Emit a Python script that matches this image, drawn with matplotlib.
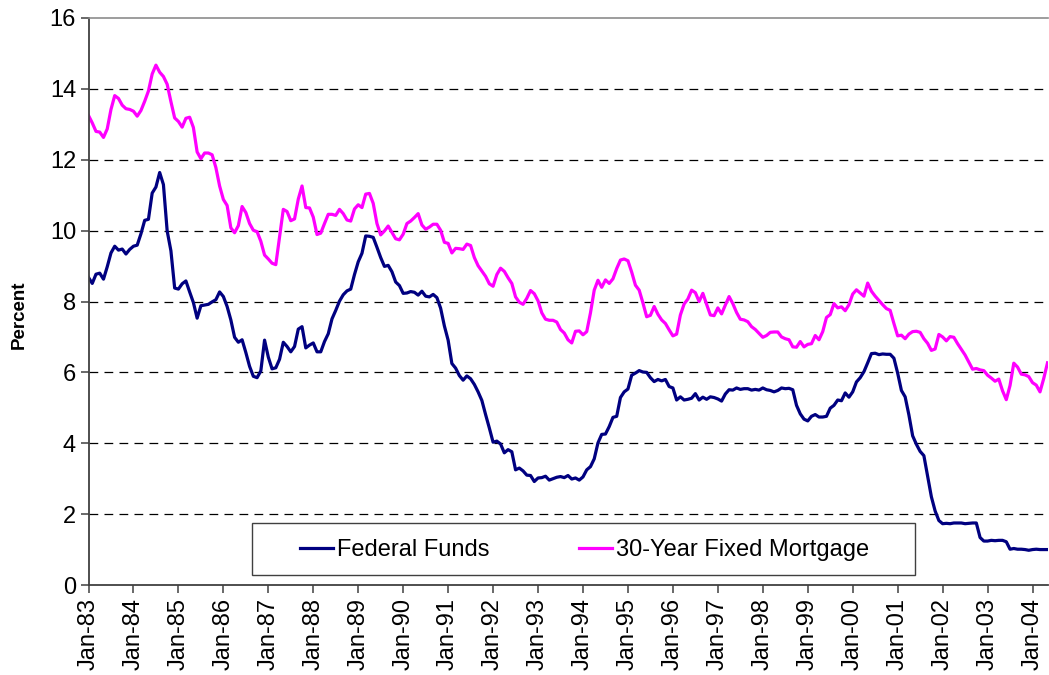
import matplotlib
matplotlib.use('Agg')
import matplotlib.pyplot as plt
from matplotlib.patches import Rectangle
import numpy as np

plt.rcParams['font.family'] = ['Liberation Sans', 'DejaVu Sans']

# monthly series, Jan-83 .. May-04
fed_funds = [
    8.68, 8.51, 8.77, 8.80, 8.63, 8.98, 9.37, 9.56, 9.45, 9.48, 9.34, 9.47,
    9.56, 9.59, 9.91, 10.29, 10.32, 11.06, 11.23, 11.64, 11.30, 9.99, 9.43, 8.38,
    8.35, 8.50, 8.58, 8.27, 7.97, 7.53, 7.88, 7.90, 7.92, 7.99, 8.05, 8.27,
    8.14, 7.86, 7.48, 6.99, 6.85, 6.92, 6.56, 6.17, 5.89, 5.85, 6.04, 6.91,
    6.43, 6.10, 6.13, 6.37, 6.85, 6.73, 6.58, 6.73, 7.22, 7.29, 6.69, 6.77,
    6.83, 6.58, 6.58, 6.87, 7.09, 7.51, 7.75, 8.01, 8.19, 8.30, 8.35, 8.76,
    9.12, 9.36, 9.85, 9.84, 9.81, 9.53, 9.24, 8.99, 9.02, 8.84, 8.55, 8.45,
    8.23, 8.24, 8.28, 8.26, 8.18, 8.29, 8.15, 8.13, 8.20, 8.11, 7.81, 7.31,
    6.91, 6.25, 6.12, 5.91, 5.78, 5.90, 5.82, 5.66, 5.45, 5.21, 4.81, 4.43,
    4.03, 4.06, 3.98, 3.73, 3.82, 3.76, 3.25, 3.30, 3.22, 3.10, 3.09, 2.92,
    3.02, 3.03, 3.07, 2.96, 3.00, 3.04, 3.06, 3.03, 3.09, 2.99, 3.02, 2.96,
    3.05, 3.25, 3.34, 3.56, 4.01, 4.25, 4.26, 4.47, 4.73, 4.76, 5.29, 5.45,
    5.53, 5.92, 5.98, 6.05, 6.01, 6.00, 5.85, 5.74, 5.80, 5.76, 5.80, 5.60,
    5.56, 5.22, 5.31, 5.22, 5.24, 5.27, 5.40, 5.22, 5.30, 5.24, 5.31, 5.29,
    5.25, 5.19, 5.39, 5.51, 5.50, 5.56, 5.52, 5.54, 5.54, 5.50, 5.52, 5.50,
    5.56, 5.51, 5.49, 5.45, 5.49, 5.56, 5.54, 5.55, 5.51, 5.07, 4.83, 4.68,
    4.63, 4.76, 4.81, 4.74, 4.74, 4.76, 4.99, 5.07, 5.22, 5.20, 5.42, 5.30,
    5.45, 5.73, 5.85, 6.02, 6.27, 6.53, 6.54, 6.50, 6.52, 6.51, 6.51, 6.40,
    5.98, 5.49, 5.31, 4.80, 4.21, 3.97, 3.77, 3.65, 3.07, 2.49, 2.09, 1.82,
    1.73, 1.74, 1.73, 1.75, 1.75, 1.75, 1.73, 1.74, 1.75, 1.75, 1.34, 1.24,
    1.24, 1.26, 1.25, 1.26, 1.26, 1.22, 1.01, 1.03, 1.01, 1.01, 1.00, 0.98,
    1.00, 1.01, 1.00, 1.00, 1.00,
]

mortgage_30y = [
    13.25, 13.04, 12.80, 12.78, 12.63, 12.87, 13.42, 13.81, 13.73, 13.54, 13.44, 13.42,
    13.37, 13.23, 13.39, 13.65, 13.94, 14.42, 14.67, 14.47, 14.35, 14.13, 13.64, 13.18,
    13.08, 12.92, 13.17, 13.20, 12.91, 12.22, 12.03, 12.19, 12.19, 12.14, 11.78, 11.26,
    10.88, 10.71, 10.08, 9.94, 10.14, 10.68, 10.51, 10.20, 10.01, 9.97, 9.70, 9.31,
    9.20, 9.08, 9.04, 9.83, 10.60, 10.54, 10.28, 10.33, 10.89, 11.26, 10.65, 10.64,
    10.38, 9.89, 9.93, 10.20, 10.46, 10.46, 10.43, 10.60, 10.48, 10.30, 10.27, 10.61,
    10.73, 10.65, 11.03, 11.05, 10.77, 10.20, 9.88, 9.99, 10.13, 9.95, 9.77, 9.74,
    9.90, 10.20, 10.27, 10.37, 10.48, 10.16, 10.04, 10.10, 10.18, 10.18, 10.01, 9.67,
    9.64, 9.37, 9.50, 9.49, 9.47, 9.62, 9.58, 9.24, 9.01, 8.86, 8.71, 8.50,
    8.43, 8.76, 8.94, 8.85, 8.67, 8.51, 8.13, 7.98, 7.92, 8.09, 8.31, 8.22,
    8.02, 7.68, 7.50, 7.47, 7.47, 7.42, 7.21, 7.11, 6.92, 6.83, 7.16, 7.17,
    7.06, 7.15, 7.68, 8.32, 8.60, 8.40, 8.61, 8.51, 8.64, 8.93, 9.17, 9.20,
    9.15, 8.83, 8.46, 8.32, 7.96, 7.57, 7.61, 7.86, 7.64, 7.48, 7.38, 7.20,
    7.03, 7.08, 7.62, 7.93, 8.07, 8.32, 8.25, 8.00, 8.23, 7.92, 7.62, 7.60,
    7.82, 7.65, 7.90, 8.14, 7.94, 7.69, 7.50, 7.48, 7.43, 7.29, 7.21, 7.10,
    6.99, 7.04, 7.13, 7.14, 7.14, 7.00, 6.95, 6.92, 6.72, 6.71, 6.87, 6.72,
    6.79, 6.81, 7.04, 6.92, 7.15, 7.55, 7.63, 7.94, 7.82, 7.85, 7.74, 7.91,
    8.21, 8.33, 8.24, 8.15, 8.52, 8.29, 8.15, 8.03, 7.91, 7.80, 7.75, 7.38,
    7.03, 7.05, 6.95, 7.08, 7.15, 7.16, 7.13, 6.95, 6.82, 6.62, 6.66, 7.07,
    7.00, 6.89, 7.01, 6.99, 6.81, 6.65, 6.49, 6.29, 6.09, 6.11, 6.07, 6.05,
    5.92, 5.84, 5.75, 5.81, 5.48, 5.23, 5.63, 6.26, 6.15, 5.95, 5.93, 5.88,
    5.71, 5.64, 5.45, 5.83, 6.27,
]

years = list(range(1983, 2005))
tick_labels = ["Jan-%02d" % (y % 100) for y in years]

months = np.arange(len(fed_funds))

W, H = 1049, 675
ax_l, ax_r, ax_t, ax_b = 88.5, 1047.5, 18, 585
fig = plt.figure(figsize=(W / 100, H / 100), dpi=100)
ax = fig.add_axes([ax_l / W, 1 - ax_b / H, (ax_r - ax_l) / W, (ax_b - ax_t) / H])


def ax_x(px):
    return (px - ax_l) / (ax_r - ax_l)


def ax_y(py):
    return (ax_b - py) / (ax_b - ax_t)


ax.plot(months, fed_funds, color="#000080", lw=2.3, label="Federal Funds",
        solid_joinstyle="round")
ax.plot(months, mortgage_30y, color="#FF00FF", lw=2.3, label="30-Year Fixed Mortgage",
        solid_joinstyle="round")

ax.set_xlim(0, len(fed_funds) - 1)
ax.set_ylim(0, 16)
ax.set_yticks(np.arange(0, 17, 2))
ax.set_xticks(np.arange(0, len(years) * 12, 12))
ax.set_xticklabels(tick_labels, rotation=90)

# dashed gridlines, black
for v in range(2, 16, 2):
    ax.axhline(v, color="black", lw=0.9, ls=(0, (7, 5)), zorder=0)

ax.spines["right"].set_visible(False)
ax.spines["top"].set_color("#8c8c8c")
ax.spines["top"].set_linewidth(1.2)
for s in ("left", "bottom"):
    ax.spines[s].set_color("#404040")
    ax.spines[s].set_linewidth(1.3)

ax.tick_params(axis="both", direction="out", length=6, width=1.1, color="#404040",
               labelsize=17, pad=3)
ax.set_ylabel("Percent", fontsize=13.5, fontweight="bold")
ax.yaxis.set_label_coords(ax_x(28), ax_y(315))

# legend box drawn separately, entries centred inside it
box = Rectangle((ax_x(252), ax_y(575)), ax_x(915) - ax_x(252), ax_y(523) - ax_y(575),
                transform=ax.transAxes, facecolor="white", edgecolor="#404040",
                lw=1.0, zorder=4)
ax.add_patch(box)
leg = ax.legend(loc="center", bbox_to_anchor=(ax_x(584.5), ax_y(550)),
                ncol=2, fontsize=17, frameon=False,
                handlelength=1.4, handletextpad=0.15, columnspacing=3.8,
                borderpad=0, borderaxespad=0)
leg.set_zorder(5)

fig.savefig("out.png", dpi=100)
